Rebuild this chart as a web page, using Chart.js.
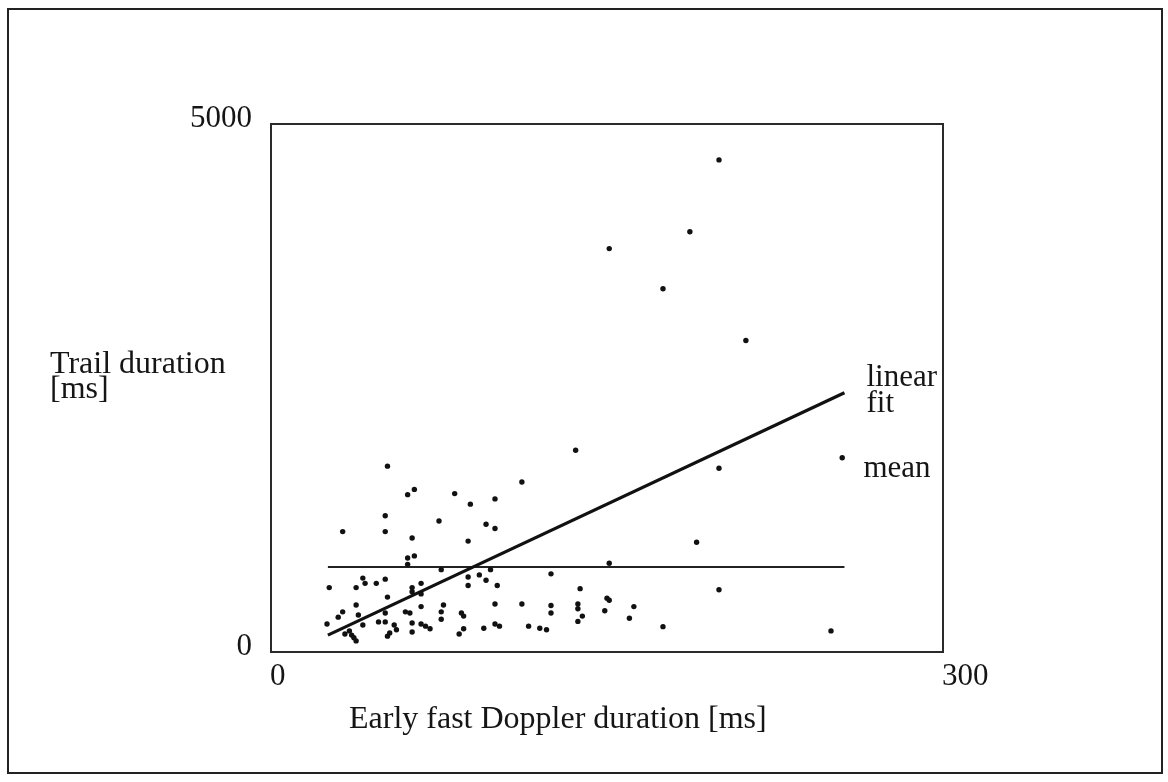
<!DOCTYPE html>
<html>
<head>
<meta charset="utf-8">
<script src="https://cdn.jsdelivr.net/npm/chart.js@4.4.1/dist/chart.umd.min.js"></script>
<style>
  html, body { margin: 0; padding: 0; background: #ffffff; }
  #wrap { width: 1168px; height: 782px; }
</style>
</head>
<body>
<div id="wrap"><canvas id="c" width="1168" height="782"></canvas></div>
<script>
// ---- Data ----
const earlyDoppler = [
  200, 187, 151, 175, 212, 136, 200, 255, 190, 151, 138, 200, 137, 137, 150, 151, 162, 149, 139, 137, 160, 175, 250,
  112, 100, 100, 98, 125, 101, 100, 112, 125, 125, 100, 102, 115, 120, 123,
  52, 64, 61, 82, 89, 51, 75, 96, 32, 51, 63, 88, 61, 64, 61,
  76, 88, 88, 93, 96, 67, 67, 63, 63, 67, 77, 76, 76, 85, 86, 63, 63, 67, 69, 71, 86, 84, 95, 60, 62,
  26, 38, 41, 42, 47, 51, 52, 38, 32, 30, 39, 41, 25, 33, 35, 36, 37, 38, 48, 51, 53, 52, 55, 56, 51
];
const trailDuration = [
  4660, 3980, 3820, 3440, 2950, 1910, 1740, 1840, 1040, 840, 600, 590, 455, 410, 510, 490, 430, 390, 340, 290, 320, 240, 200,
  1610, 1450, 1170, 780, 740, 630, 455, 455, 440, 370, 265, 245, 245, 225, 210,
  1760, 1540, 1490, 1500, 1400, 1290, 1240, 1210, 1140, 1140, 1080, 1050, 890, 910, 830,
  780, 710, 630, 730, 680, 650, 550, 610, 570, 430, 445, 380, 310, 370, 340, 275, 190, 265, 245, 220, 220, 170, 225, 380, 370,
  610, 610, 700, 650, 650, 690, 520, 445, 380, 330, 350, 255, 265, 170, 200, 160, 135, 105, 285, 285, 180, 150, 255, 210, 370
];
const fitX = [25.4, 256];
const fitY = [160, 2455];
const meanX = [25.4, 256];
const meanY = [805, 805];
const xTicks = [0, 300];
const yTicks = [0, 5000];

const pts = (xs, ys) => xs.map((x, i) => ({ x: x, y: ys[i] }));
const SERIF = "'Liberation Serif', 'DejaVu Serif', serif";
const INK = '#151515';
const FS = 31;

const overlay = {
  id: 'overlay',
  afterDraw(chart) {
    const ctx = chart.ctx;
    const a = chart.chartArea;
    ctx.save();
    // outer frame
    ctx.strokeStyle = '#222';
    ctx.lineWidth = 2;
    ctx.strokeRect(8, 9, 1154, 764);
    // plot box (top/right sides)
    ctx.lineWidth = 2;
    ctx.strokeStyle = '#2a2a2a';
    ctx.strokeRect(a.left, a.top, a.right - a.left, a.bottom - a.top);
    // texts
    ctx.fillStyle = INK;
    ctx.textBaseline = 'alphabetic';
    ctx.textAlign = 'left';
    ctx.font = '32px ' + SERIF;
    ctx.fillText('Trail duration', 50, 373);
    ctx.fillText('[ms]', 50, 398);
    ctx.font = FS + 'px ' + SERIF;
    const fitEnd = chart.getDatasetMeta(1).data[1];
    ctx.fillText('linear', fitEnd.x + 22, 386);
    ctx.fillText('fit', fitEnd.x + 22, 412);
    ctx.fillText('mean', fitEnd.x + 19, 477);
    ctx.font = '32px ' + SERIF;
    ctx.fillText('Early fast Doppler duration [ms]', 349, 728);
    ctx.restore();
  }
};

new Chart(document.getElementById('c'), {
  type: 'scatter',
  data: {
    datasets: [
      {
        label: 'events',
        data: pts(earlyDoppler, trailDuration),
        pointRadius: 2.7,
        pointHoverRadius: 2.7,
        pointBackgroundColor: '#111',
        pointBorderWidth: 0,
        showLine: false
      },
      {
        label: 'linear fit',
        data: pts(fitX, fitY),
        showLine: true,
        borderColor: '#111',
        borderWidth: 3.2,
        pointRadius: 0,
        fill: false
      },
      {
        label: 'mean',
        data: pts(meanX, meanY),
        showLine: true,
        borderColor: '#222',
        borderWidth: 2,
        pointRadius: 0,
        fill: false
      }
    ]
  },
  options: {
    responsive: false,
    animation: false,
    devicePixelRatio: 1,
    layout: { padding: { top: 124, right: 225, bottom: 0, left: 0 } },
    plugins: { legend: { display: false }, tooltip: { enabled: false } },
    scales: {
      x: {
        type: 'linear',
        min: 0, max: 300,
        afterBuildTicks: s => { s.ticks = xTicks.map(v => ({ value: v })); },
        afterFit: s => { s.height = 130; },
        grid: { display: false, drawTicks: false },
        border: { display: true, color: '#2a2a2a', width: 2 },
        ticks: { color: INK, font: { family: SERIF, size: FS }, padding: 6, align: 'start', labelOffset: -1, maxRotation: 0,
                 callback: v => String(v) }
      },
      y: {
        type: 'linear',
        min: 0, max: 5000,
        afterBuildTicks: s => { s.ticks = yTicks.map(v => ({ value: v })); },
        afterFit: s => { s.width = 271; },
        grid: { display: false, drawTicks: false },
        border: { display: true, color: '#2a2a2a', width: 2 },
        ticks: { color: INK, font: { family: SERIF, size: FS }, padding: 19, labelOffset: -5,
                 callback: v => String(v) }
      }
    }
  },
  plugins: [overlay]
});
</script>
</body>
</html>
